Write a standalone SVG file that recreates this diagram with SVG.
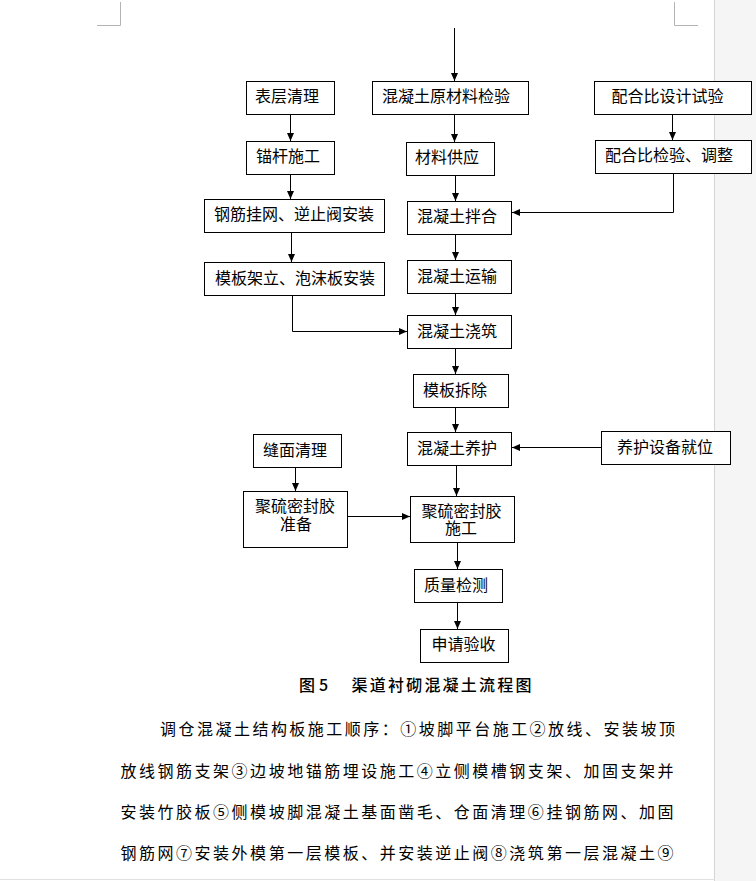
<svg xmlns="http://www.w3.org/2000/svg" width="756" height="881" viewBox="0 0 756 881">
<style>
.bx{fill:#fff;stroke:#000;stroke-width:1}
.t{font-family:"Noto Sans CJK SC","Liberation Sans",sans-serif;font-size:16px;fill:#000}
.c{fill:none;stroke:#000;stroke-width:1}
.p{font-family:"Noto Sans CJK SC","Liberation Serif",serif;font-size:16px;fill:#000}
.mark{stroke:#b4b4b4;stroke-width:1;fill:none}
</style>
<defs>
<marker id="ah" viewBox="0 0 8 8" refX="8" refY="4" markerWidth="8" markerHeight="8" markerUnits="userSpaceOnUse" orient="auto">
<path d="M0,0.5 L8,4 L0,7.5 z" fill="#000"/>
</marker>
</defs>
<rect x="0" y="0" width="756" height="881" fill="#fff"/>
<rect x="715" y="0" width="41" height="881" fill="#f5f5f5"/>
<line x1="714.5" y1="0" x2="714.5" y2="881" stroke="#d4d4d4"/>
<line x1="0" y1="879.5" x2="715" y2="879.5" stroke="#e0e0e0"/>
<g id="page-marks">
<path class="mark" d="M120.5,2 V25.5 H97"/>
<path class="mark" d="M674.5,2 V25.5 H698"/>
</g>
<g id="connectors">
<line class="c" x1="454.5" y1="28" x2="454.5" y2="81" marker-end="url(#ah)"/>
<line class="c" x1="454.5" y1="114" x2="454.5" y2="142" marker-end="url(#ah)"/>
<line class="c" x1="455.5" y1="175" x2="455.5" y2="201" marker-end="url(#ah)"/>
<line class="c" x1="455.5" y1="234" x2="455.5" y2="260" marker-end="url(#ah)"/>
<line class="c" x1="455.5" y1="293" x2="455.5" y2="315" marker-end="url(#ah)"/>
<line class="c" x1="455.5" y1="348" x2="455.5" y2="374" marker-end="url(#ah)"/>
<line class="c" x1="455.5" y1="407" x2="455.5" y2="432" marker-end="url(#ah)"/>
<line class="c" x1="456.5" y1="465" x2="456.5" y2="496" marker-end="url(#ah)"/>
<line class="c" x1="457.5" y1="542" x2="457.5" y2="569" marker-end="url(#ah)"/>
<line class="c" x1="457.5" y1="602" x2="457.5" y2="629" marker-end="url(#ah)"/>
<line class="c" x1="290.5" y1="114" x2="290.5" y2="141" marker-end="url(#ah)"/>
<line class="c" x1="290.5" y1="174" x2="290.5" y2="199" marker-end="url(#ah)"/>
<line class="c" x1="291.5" y1="232" x2="291.5" y2="262" marker-end="url(#ah)"/>
<polyline class="c" points="292.5,295 292.5,331.5 407,331.5" marker-end="url(#ah)"/>
<line class="c" x1="672.5" y1="114" x2="672.5" y2="140" marker-end="url(#ah)"/>
<polyline class="c" points="673.5,173 673.5,212.5 512,212.5" marker-end="url(#ah)"/>
<line class="c" x1="601" y1="447.5" x2="512" y2="447.5" marker-end="url(#ah)"/>
<line class="c" x1="295.5" y1="467" x2="295.5" y2="491" marker-end="url(#ah)"/>
<line class="c" x1="347" y1="516.5" x2="410" y2="516.5" marker-end="url(#ah)"/>
</g>
<g id="n1"><rect class="bx" x="246.5" y="81.5" width="88" height="33"/><text class="t" x="255" y="102">表层清理</text></g>
<g id="n2"><rect class="bx" x="372.5" y="81.5" width="156" height="33"/><text class="t" x="382" y="102">混凝土原材料检验</text></g>
<g id="n3"><rect class="bx" x="594.5" y="81.5" width="157" height="33"/><text class="t" x="611.5" y="102">配合比设计试验</text></g>
<g id="n4"><rect class="bx" x="246.5" y="141.5" width="88" height="33"/><text class="t" x="256" y="162">锚杆施工</text></g>
<g id="n5"><rect class="bx" x="406.5" y="142.5" width="88" height="33"/><text class="t" x="415" y="163">材料供应</text></g>
<g id="n6"><rect class="bx" x="595.5" y="140.5" width="156" height="33"/><text class="t" x="605" y="161">配合比检验、调整</text></g>
<g id="n7"><rect class="bx" x="204.5" y="199.5" width="180" height="33"/><text class="t" x="214" y="220">钢筋挂网、逆止阀安装</text></g>
<g id="n8"><rect class="bx" x="407.5" y="201.5" width="104" height="33"/><text class="t" x="417" y="222">混凝土拌合</text></g>
<g id="n9"><rect class="bx" x="204.5" y="262.5" width="180" height="33"/><text class="t" x="215" y="283.5">模板架立、泡沫板安装</text></g>
<g id="n10"><rect class="bx" x="407.5" y="260.5" width="104" height="33"/><text class="t" x="417" y="281.5">混凝土运输</text></g>
<g id="n11"><rect class="bx" x="407.5" y="315.5" width="104" height="33"/><text class="t" x="417" y="336.5">混凝土浇筑</text></g>
<g id="n12"><rect class="bx" x="413.5" y="374.5" width="95" height="33"/><text class="t" x="423" y="395.5">模板拆除</text></g>
<g id="n13"><rect class="bx" x="407.5" y="432.5" width="104" height="33"/><text class="t" x="417" y="453.5">混凝土养护</text></g>
<g id="n14"><rect class="bx" x="601.5" y="431.5" width="129" height="33"/><text class="t" x="617" y="452.5">养护设备就位</text></g>
<g id="n15"><rect class="bx" x="253.5" y="434.5" width="88" height="33"/><text class="t" x="263" y="455.5">缝面清理</text></g>
<g id="n16"><rect class="bx" x="243.5" y="491.5" width="104" height="56"/><text class="t"><tspan x="255" y="512">聚硫密封胶</tspan><tspan x="280" y="530">准备</tspan></text></g>
<g id="n17"><rect class="bx" x="410.5" y="496.5" width="104" height="46"/><text class="t"><tspan x="421.5" y="517">聚硫密封胶</tspan><tspan x="445" y="534">施工</tspan></text></g>
<g id="n18"><rect class="bx" x="414.5" y="569.5" width="88" height="33"/><text class="t" x="424" y="591">质量检测</text></g>
<g id="n19"><rect class="bx" x="420.5" y="629.5" width="88" height="33"/><text class="t" x="431.5" y="650">申请验收</text></g>
<g id="caption">
<text class="p" x="299" y="691" font-weight="500">图</text>
<text class="p" x="319" y="691" font-weight="500">5</text>
<text class="p" x="351.5" y="691" font-weight="500" textLength="180" lengthAdjust="spacing">渠道衬砌混凝土流程图</text>
</g>
<g id="paragraph">
<text class="p" x="160" y="735" textLength="515" lengthAdjust="spacing">调仓混凝土结构板施工顺序：①坡脚平台施工②放线、安装坡顶</text>
<text class="p" x="120.5" y="776.5" textLength="553" lengthAdjust="spacing">放线钢筋支架③边坡地锚筋埋设施工④立侧模槽钢支架、加固支架并</text>
<text class="p" x="120.5" y="818" textLength="553" lengthAdjust="spacing">安装竹胶板⑤侧模坡脚混凝土基面凿毛、仓面清理⑥挂钢筋网、加固</text>
<text class="p" x="120.5" y="859" textLength="553" lengthAdjust="spacing">钢筋网⑦安装外模第一层模板、并安装逆止阀⑧浇筑第一层混凝土⑨</text>
</g>
</svg>
